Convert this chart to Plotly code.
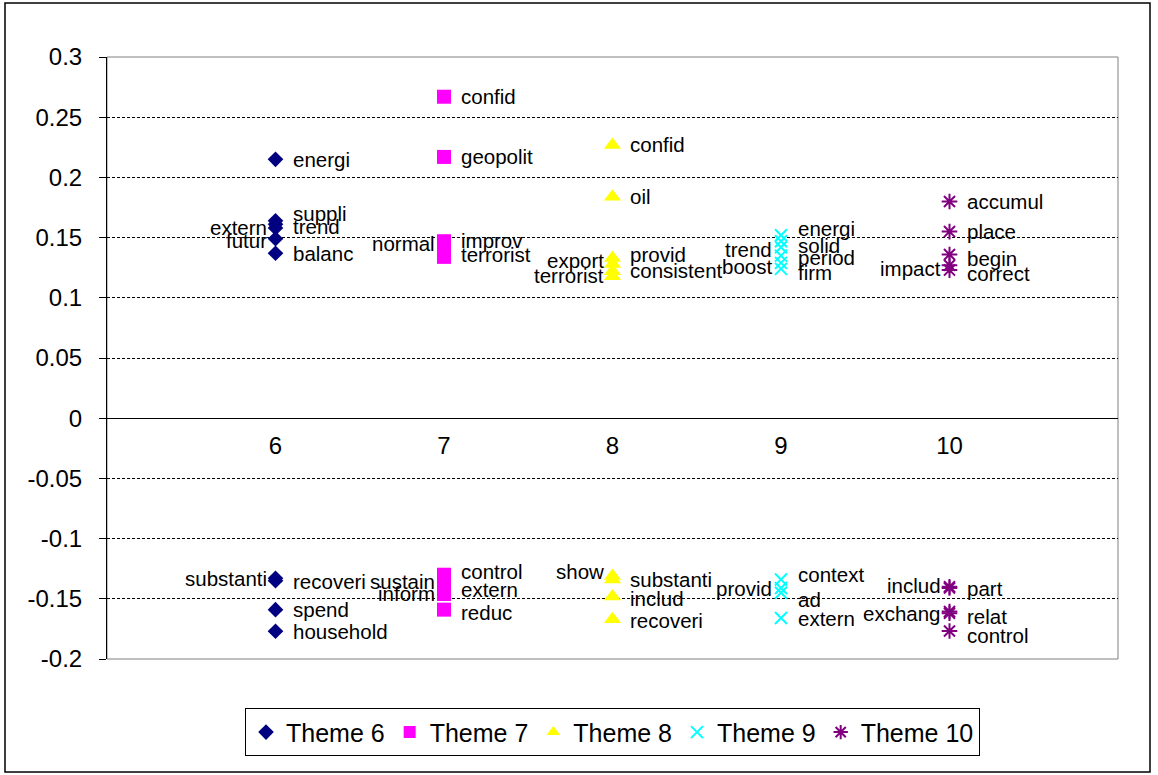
import plotly.graph_objects as go

# ---------------- data ----------------
x_categories = [6, 7, 8, 9, 10]
x_tick_labels = ["6", "7", "8", "9", "10"]
y_tick_values = [0.3, 0.25, 0.2, 0.15, 0.1, 0.05, 0, -0.05, -0.1, -0.15, -0.2]
y_tick_labels = ["0.3", "0.25", "0.2", "0.15", "0.1", "0.05", "0", "-0.05", "-0.1", "-0.15", "-0.2"]

theme6_words = ["energi", "suppli", "extern", "trend", "futur", "balanc",
                "substanti", "recoveri", "spend", "household"]
theme6_values = [0.215, 0.164, 0.161, 0.158, 0.149, 0.137,
                 -0.133, -0.135, -0.159, -0.177]

theme7_words = ["confid", "geopolit", "improv", "normal", "terrorist",
                "control", "sustain", "extern", "inform", "reduc"]
theme7_values = [0.267, 0.217, 0.147, 0.145, 0.134,
                 -0.130, -0.134, -0.141, -0.146, -0.159]

theme8_words = ["confid", "oil", "provid", "export", "consistent", "terrorist",
                "show", "substanti", "includ", "recoveri"]
theme8_values = [0.227, 0.184, 0.133, 0.128, 0.122, 0.118,
                 -0.131, -0.134, -0.148, -0.167]

theme9_words = ["energi", "solid", "trend", "period", "boost", "firm",
                "context", "provid", "ad", "extern"]
theme9_values = [0.152, 0.147, 0.142, 0.135, 0.129, 0.124,
                 -0.134, -0.141, -0.145, -0.166]

theme10_words = ["accumul", "place", "begin", "impact", "correct",
                 "includ", "part", "exchang", "relat", "control"]
theme10_values = [0.180, 0.155, 0.136, 0.127, 0.123,
                  -0.140, -0.141, -0.1606, -0.162, -0.1767]

series_names = ["Theme 6", "Theme 7", "Theme 8", "Theme 9", "Theme 10"]

# ---------------- label styling (side of marker, vertical nudge in px) ----------------
theme6_side = ["R", "R", "L", "R", "L", "R", "L", "R", "R", "R"]
theme6_dy = [0, 7, -3, 1, -2, 0, 0, -1, 0, 0]
theme7_side = ["R", "R", "R", "L", "R", "R", "L", "R", "L", "R"]
theme7_dy = [0, 0, 1, 0, 2, 3, -2, -2, 0, -3]
theme8_side = ["R", "R", "R", "L", "R", "L", "L", "R", "R", "R"]
theme8_dy = [0, 0, 4, 4, 1, 1, 4, 0, -2, -1]
theme9_side = ["R", "R", "L", "R", "L", "R", "R", "L", "R", "R"]
theme9_dy = [7, -4, -2, -2, -4, -4, 5, -1, -7, 0]
theme10_side = ["R", "R", "R", "L", "R", "L", "R", "L", "R", "R"]
theme10_dy = [0, 0, -4, -3, -3, 1, -1, -2, -3, -5]

FONT = "Liberation Sans, Arial, sans-serif"

series = [
    (series_names[0], x_categories[0], theme6_words, theme6_values, theme6_side, theme6_dy,
     dict(symbol="diamond", size=12, color="#000080")),
    (series_names[1], x_categories[1], theme7_words, theme7_values, theme7_side, theme7_dy,
     dict(symbol="square", size=14, color="#FF00FF")),
    (series_names[2], x_categories[2], theme8_words, theme8_values, theme8_side, theme8_dy,
     dict(symbol="triangle-up", size=15, color="#FFFF00")),
    (series_names[3], x_categories[3], theme9_words, theme9_values, theme9_side, theme9_dy,
     dict(symbol="x-thin-open", size=12, color="#00FFFF", line=dict(width=2, color="#00FFFF"))),
    (series_names[4], x_categories[4], theme10_words, theme10_values, theme10_side, theme10_dy,
     dict(symbol="asterisk-open", size=13, color="#800080", line=dict(width=2, color="#800080"))),
]

fig = go.Figure()
annotations = []
for name, xc, words, vals, sides, dys, marker in series:
    fig.add_trace(go.Scatter(
        x=[xc] * len(vals), y=vals, mode="markers", name=name,
        marker=marker, hoverinfo="text", text=words,
    ))
    for w, v, s, dy in zip(words, vals, sides, dys):
        annotations.append(dict(
            x=xc, y=v, xref="x", yref="y", text=w, showarrow=False,
            xanchor="left" if s == "R" else "right",
            xshift=16 if s == "R" else -8, yshift=dy,
            font=dict(family=FONT, size=20.5, color="black"),
            borderpad=0,
        ))

# plot-area border (gray) and outer chart border (black)
shapes = [
    dict(type="rect", xref="paper", yref="paper", x0=0, x1=1, y0=0, y1=1,
         line=dict(color="#808080", width=1), layer="below"),
    dict(type="rect", xref="paper", yref="paper",
         x0=(5 - 107) / 1011, x1=(1150 - 107) / 1011,
         y0=(659 - 772) / 602, y1=(659 - 3) / 602,
         line=dict(color="black", width=1.5), layer="below"),
]

fig.update_layout(
    width=1158, height=775,
    margin=dict(l=107, r=40, t=57, b=116),
    paper_bgcolor="white", plot_bgcolor="white",
    font=dict(family=FONT, color="black"),
    showlegend=True,
    legend=dict(
        orientation="h", x=0.5, xanchor="center", y=-0.082, yanchor="top",
        bordercolor="black", borderwidth=1, bgcolor="white",
        font=dict(family=FONT, size=25, color="black"),
        itemsizing="constant", tracegroupgap=0,
    ),
    annotations=annotations,
    shapes=shapes,
    xaxis=dict(
        range=[5, 11], tickvals=x_categories, ticktext=x_tick_labels,
        showgrid=False, zeroline=False,
        showline=True, linecolor="black", linewidth=1,
        anchor="free", position=0.4, ticks="", ticklabelstandoff=6,
        tickfont=dict(family=FONT, size=24, color="black"),
    ),
    yaxis=dict(
        range=[-0.2, 0.3], tickvals=y_tick_values, ticktext=y_tick_labels,
        showgrid=True, gridcolor="black", gridwidth=1, griddash="3px,2px",
        zeroline=False, showline=True, linecolor="black", linewidth=1,
        ticks="outside", ticklen=7, tickcolor="black", ticklabelstandoff=12,
        tickfont=dict(family=FONT, size=24, color="black"),
    ),
)

fig.write_html(
    "out.html",
    config={"displayModeBar": False},
    post_script="document.body.style.margin='0px';document.body.style.overflow='hidden';",
)
